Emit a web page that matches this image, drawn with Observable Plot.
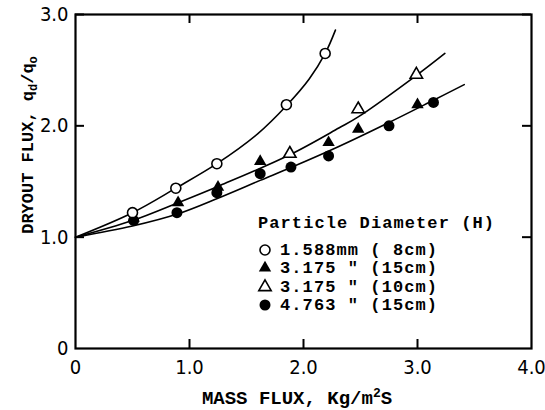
<!DOCTYPE html>
<html><head><meta charset="utf-8">
<script src="https://cdn.jsdelivr.net/npm/d3@7"></script>
<script src="https://cdn.jsdelivr.net/npm/@observablehq/plot@0.6"></script>
<style>body{margin:0;background:#fff}</style>
</head><body><div id="chart"></div>
<script>
// Tick values
const xTicks = [0, 1, 2, 3, 4];
const yTicks = [0, 1, 2, 3];
const innerTicks = [1, 2, 3];
const legendTitle = "Particle Diameter (H)";
const seriesNames = ["1.588mm ( 8cm)", '3.175 " (15cm)', '3.175 " (10cm)', '4.763 " (15cm)'];

// Measured points
const s8_x  = [0.50, 0.88, 1.24, 1.85, 2.19];
const s8_y  = [1.22, 1.44, 1.66, 2.19, 2.65];
const s15a_x = [0.51, 0.90, 1.25, 1.62, 2.22, 2.48, 3.00];
const s15a_y = [1.17, 1.31, 1.45, 1.68, 1.85, 1.97, 2.19];
const s10_x = [1.88, 2.48, 2.99];
const s10_y = [1.75, 2.15, 2.46];
const s15b_x = [0.51, 0.89, 1.24, 1.62, 1.89, 2.22, 2.75, 3.14];
const s15b_y = [1.15, 1.22, 1.40, 1.57, 1.63, 1.73, 2.00, 2.21];

// Fitted curves
const cA_x = [0, 0.50, 0.88, 1.24, 1.60, 1.85, 2.05, 2.19, 2.28];
const cA_y = [1.0, 1.22, 1.44, 1.66, 1.93, 2.18, 2.42, 2.65, 2.86];
const cB_x = [0, 0.50, 0.90, 1.27, 1.88, 2.31, 2.48, 3.00, 3.24];
const cB_y = [1.0, 1.15, 1.31, 1.465, 1.74, 1.98, 2.08, 2.46, 2.65];
const cC_x = [0, 0.50, 0.90, 1.25, 1.62, 1.90, 2.30, 2.75, 3.14, 3.41];
const cC_y = [1.0, 1.10, 1.21, 1.35, 1.51, 1.63, 1.81, 2.03, 2.23, 2.37];

const zip = (xs, ys) => xs.map((x, i) => ({x, y: ys[i]}));

const tickFont = "'Liberation Sans Narrow', 'DejaVu Sans Condensed', 'Liberation Sans', sans-serif";
const monoFont = "'Liberation Mono', 'DejaVu Sans Mono', monospace";
const fmt = d => d === 0 ? "0" : d.toFixed(1);

const W = 545, H = 410, mL = 75, mR = 14, mT = 14, mB = 62;
const tickLen = 9;

const plot = Plot.plot({
  width: W,
  height: H,
  marginLeft: mL,
  marginRight: mR,
  marginTop: mT,
  marginBottom: mB,
  x: {domain: [0, 4]},
  y: {domain: [0, 3]},
  style: {background: "white", color: "black"},
  marks: [
    Plot.axisX({ticks: xTicks, tickSize: 0, tickPadding: 11, tickFormat: fmt, fontSize: 20, fontFamily: tickFont, label: null}),
    Plot.axisY({ticks: yTicks, tickSize: 0, tickPadding: 7, tickFormat: fmt, fontSize: 20, fontFamily: tickFont, label: null}),
    // inward ticks
    Plot.ruleX(innerTicks, {x: d => d, insetTop: H - mT - mB - tickLen, stroke: "black", strokeWidth: 2}),
    Plot.ruleX(innerTicks, {x: d => d, insetBottom: H - mT - mB - tickLen, stroke: "black", strokeWidth: 2}),
    Plot.ruleY(innerTicks, {y: d => d, insetRight: W - mL - mR - tickLen, stroke: "black", strokeWidth: 2}),
    Plot.ruleY(innerTicks, {y: d => d, insetLeft: W - mL - mR - tickLen, stroke: "black", strokeWidth: 2}),
    Plot.line(zip(cA_x, cA_y), {x: "x", y: "y", curve: "catmull-rom", stroke: "black", strokeWidth: 1.6}),
    Plot.line(zip(cB_x, cB_y), {x: "x", y: "y", curve: "catmull-rom", stroke: "black", strokeWidth: 1.6}),
    Plot.line(zip(cC_x, cC_y), {x: "x", y: "y", curve: "catmull-rom", stroke: "black", strokeWidth: 1.6}),
    Plot.dot(zip(s15b_x, s15b_y), {x: "x", y: "y", r: 5.5, fill: "black", stroke: "none"}),
    Plot.dot(zip(s15a_x, s15a_y), {x: "x", y: "y", symbol: "triangle", r: 4.6, fill: "black", stroke: "none"}),
    Plot.dot(zip(s10_x, s10_y), {x: "x", y: "y", symbol: "triangle", r: 4.6, fill: "white", stroke: "black", strokeWidth: 1.6}),
    Plot.dot(zip(s8_x, s8_y), {x: "x", y: "y", r: 5, fill: "white", stroke: "black", strokeWidth: 1.6}),
    Plot.frame({stroke: "black", strokeWidth: 2.2})
  ]
});

const svg = d3.select(plot);
// X axis title
const xt = svg.append("text")
  .attr("x", 297).attr("y", 404)
  .attr("text-anchor", "middle")
  .attr("font-family", monoFont).attr("font-weight", "bold").attr("font-size", 19)
  .attr("fill", "black");
xt.append("tspan").text("MASS FLUX, Kg/m");
xt.append("tspan").attr("dy", -7).attr("font-size", 13).text("2");
xt.append("tspan").attr("dy", 7).text("S");

// Y axis title
const yt = svg.append("text")
  .attr("transform", "translate(33,145) rotate(-90)")
  .attr("text-anchor", "middle")
  .attr("font-family", monoFont).attr("font-weight", "bold").attr("font-size", 17)
  .attr("fill", "black");
yt.append("tspan").text("DRYOUT FLUX, q");
yt.append("tspan").attr("dy", 4).attr("font-size", 12).text("d");
yt.append("tspan").attr("dy", -4).text("/q");
yt.append("tspan").attr("dy", 4).attr("font-size", 12).text("o");

// Legend
const lg = svg.append("g")
  .attr("font-family", monoFont).attr("font-weight", "bold").attr("font-size", 17)
  .attr("fill", "black").attr("text-anchor", "start");
lg.append("text").attr("x", 258).attr("y", 228).attr("text-anchor", "start")
  .attr("textLength", 236).attr("lengthAdjust", "spacing").text(legendTitle);
const legendSyms = [
  {sym: d3.symbolCircle, size: Math.PI * 25, fill: "white", stroke: "black"},
  {sym: d3.symbolTriangle, size: Math.PI * 4.6 * 4.6, fill: "black", stroke: "none"},
  {sym: d3.symbolTriangle, size: Math.PI * 4.6 * 4.6, fill: "white", stroke: "black"},
  {sym: d3.symbolCircle, size: Math.PI * 5.5 * 5.5, fill: "black", stroke: "none"}
];
const baselines = [255, 273, 292, 310];
seriesNames.forEach((name, i) => {
  const by = baselines[i];
  const s = legendSyms[i];
  lg.append("path")
    .attr("d", d3.symbol(s.sym, s.size)())
    .attr("transform", `translate(265,${by - 5})`)
    .attr("fill", s.fill).attr("stroke", s.stroke).attr("stroke-width", 1.6);
  lg.append("text").attr("x", 280).attr("y", by).attr("text-anchor", "start")
    .attr("textLength", 157).attr("lengthAdjust", "spacing")
    .style("white-space", "pre").text(name);
});

document.getElementById("chart").appendChild(plot);
</script>
</body></html>
